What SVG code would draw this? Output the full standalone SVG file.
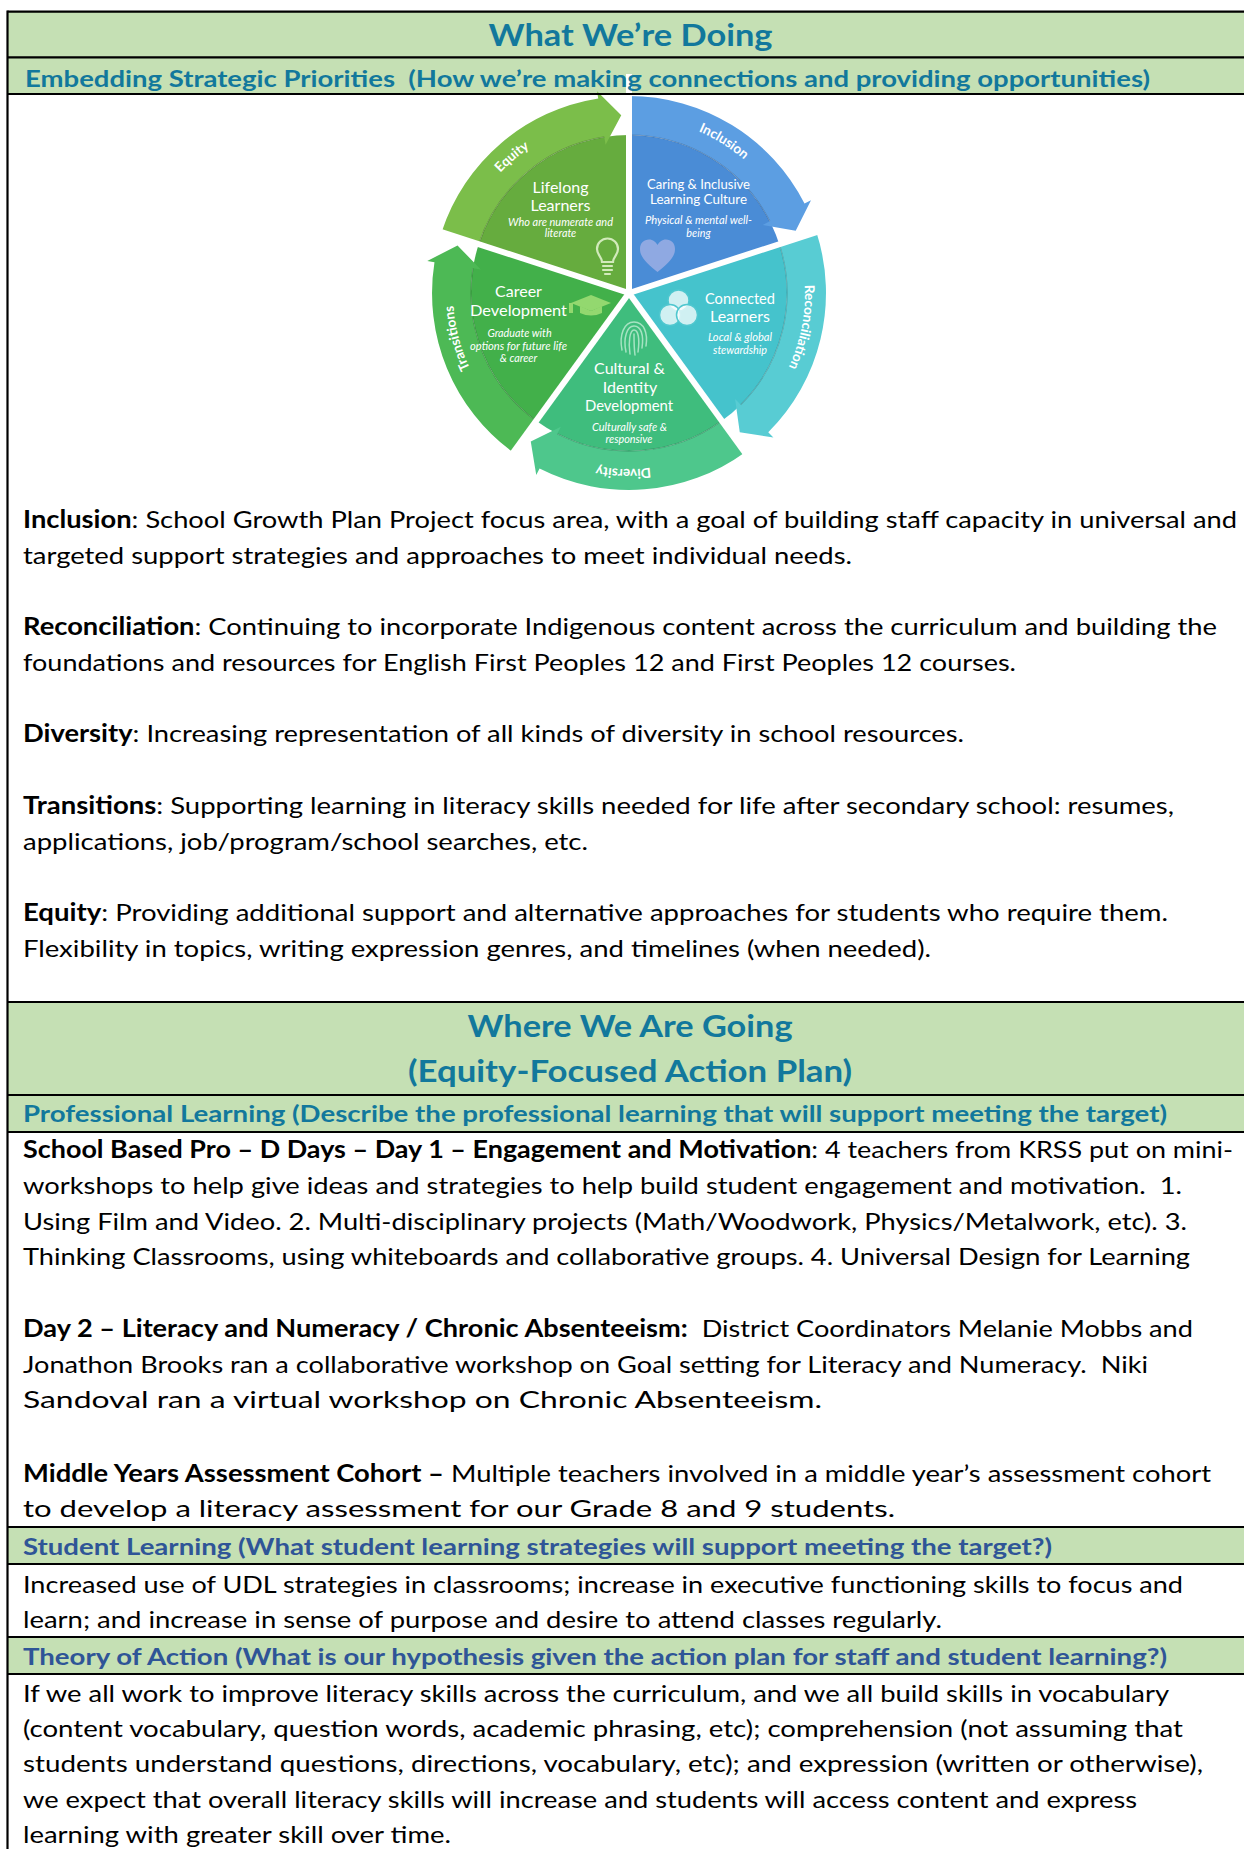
<svg xmlns="http://www.w3.org/2000/svg" width="1244" height="1849" viewBox="0 0 1244 1849">
<defs>
<style>
.t{font-family:Lato,'Liberation Sans',sans-serif;font-size:24px;fill:#000}
.b{font-weight:700}
.h1{font-family:Lato,'Liberation Sans',sans-serif;font-weight:700;font-size:31px;fill:#12789C;text-anchor:middle}
.h2{font-family:Lato,'Liberation Sans',sans-serif;font-weight:700;font-size:22.5px;fill:#12789C}
.h3{font-family:Lato,'Liberation Sans',sans-serif;font-weight:700;font-size:22.5px;fill:#2F5597}
.band{fill:#C5E0B4}
.rule{stroke:#000;stroke-width:2.2}
.pw{font-family:Lato,'Liberation Sans',sans-serif;fill:#fff;text-anchor:middle}
.pl{font-size:16px}
.ps{font-size:13.5px}
.pi{font-size:10.8px;font-style:italic}
.arc{font-family:Lato,'Liberation Sans',sans-serif;font-weight:700;font-size:13.5px;fill:#fff}
.edge{fill:none;stroke:#000;stroke-opacity:0.18;stroke-width:1.2}
</style>
<path id="segBody" d="M629,293 L629,135 A158,158 0 0 1 779.3,244.2 Z"/>
<path id="segBand" d="M629,135 L629,96 A197,197 0 0 1 804.5,203.6 L811,200.3 L795.7,230.7 L762.7,224.9 L769.8,221.3 A158,158 0 0 0 629,135 Z"/>
<path id="segEdge" d="M629,135 A158,158 0 0 1 769.8,221.3"/>
<line id="div" x1="629" y1="293" x2="629" y2="74"/>
<path id="ring" d="M629,117 A176,176 0 1 1 629,469 A176,176 0 1 1 629,117" fill="none"/>
</defs>

<rect x="0" y="0" width="1244" height="1849" fill="#fff"/>

<g id="fills">
<rect class="band" x="7.5" y="11.7" width="1240" height="82.3"/>
<rect class="band" x="7.5" y="1002" width="1240" height="130"/>
<rect class="band" x="7.5" y="1527" width="1240" height="37"/>
<rect class="band" x="7.5" y="1637" width="1240" height="37"/>
</g>

<g id="pie">
<g id="seg-caring">
<use href="#segBody" fill="#4A8CD6"/>
<use href="#segBand" fill="#5C9EE2"/>
<use href="#segEdge" class="edge"/>
</g>
<g id="seg-connected" transform="rotate(72 629 293)">
<use href="#segBody" fill="#45C3CC"/>
<use href="#segBand" fill="#58CCD3"/>
<use href="#segEdge" class="edge"/>
</g>
<g id="seg-cultural" transform="rotate(144 629 293)">
<use href="#segBody" fill="#3FBD7D"/>
<use href="#segBand" fill="#4EC78C"/>
<use href="#segEdge" class="edge"/>
</g>
<g id="seg-career" transform="rotate(216 629 293)">
<use href="#segBody" fill="#42B04A"/>
<use href="#segBand" fill="#4DB955"/>
<use href="#segEdge" class="edge"/>
</g>
<g id="seg-lifelong" transform="rotate(288 629 293)">
<use href="#segBody" fill="#66AC3E"/>
<use href="#segBand" fill="#7BBE4A"/>
<use href="#segEdge" class="edge"/>
</g>
<g id="dividers" stroke="#fff" stroke-width="6">
<use href="#div"/>
<use href="#div" transform="rotate(72 629 293)"/>
<use href="#div" transform="rotate(144 629 293)"/>
<use href="#div" transform="rotate(216 629 293)"/>
<use href="#div" transform="rotate(288 629 293)"/>
</g>

<g id="ring-labels" class="arc">
<text><textPath href="#ring" startOffset="88.7%" text-anchor="middle">Equity</textPath></text>
<text><textPath href="#ring" startOffset="8.9%" text-anchor="middle">Inclusion</textPath></text>
<text><textPath href="#ring" startOffset="28.1%" text-anchor="middle">Reconciliation</textPath></text>
<text><textPath href="#ring" startOffset="50.5%" text-anchor="middle">Diversity</textPath></text>
<text><textPath href="#ring" startOffset="70.9%" text-anchor="middle">Transitions</textPath></text>
</g>

<g id="icons">
<g stroke="#D2EABB" stroke-width="2.2" fill="none" stroke-linecap="round">
<path d="M602,262 C602,257 597,255 597,249 A10.5,10.5 0 1 1 618,249 C618,255 613,257 613,262 Z"/>
<line x1="603" y1="266" x2="612" y2="266"/>
<line x1="603" y1="270" x2="612" y2="270"/>
<line x1="605" y1="274" x2="610" y2="274"/>
</g>
<path d="M657.5,272 C648,264 640,258 640,249 C640,243 644,239.5 649,239.5 C653,239.5 656,242 657.5,245 C659,242 662,239.5 666,239.5 C671,239.5 675,243 675,249 C675,258 667,264 657.5,272 Z" fill="#8FA9E2"/>
<g fill="#fff" fill-opacity="0.75" stroke="#4FC7CF" stroke-width="1.5">
<circle cx="678.5" cy="300.5" r="10.5"/>
<circle cx="670" cy="315" r="10.5"/>
<circle cx="687" cy="315" r="10.5"/>
</g>
<g fill="#93D86F">
<polygon points="571,303 591,295 611,303 591,311"/>
<path d="M580,306 L580,313 Q591,318 602,313 L602,306 L591,311 Z"/>
<rect x="569" y="303" width="4" height="10"/>
</g>
<g fill="none" stroke="#A6E3C2" stroke-width="1.5" stroke-linecap="round">
<path d="M622,350 C619,335 624,322 634,322 C644,322 648,333 646,346"/>
<path d="M626,352 C623,338 627,326 634,326 C641,326 644,335 642,348"/>
<path d="M630,354 C628,342 630,330 634,330 C638,330 640,338 638,352"/>
<path d="M634,334 C634,342 634,348 635,355"/>
</g>
</g>

<g id="node-lifelong" class="pw">
<text class="pl" x="560.5" y="192.5">Lifelong</text>
<text class="pl" x="560.5" y="211">Learners</text>
<text class="pi" x="560.5" y="225.5" textLength="105" lengthAdjust="spacingAndGlyphs">Who are numerate and</text>
<text class="pi" x="560.5" y="237">literate</text>
</g>
<g id="node-caring" class="pw">
<text class="ps" x="698.5" y="189.3" textLength="103" lengthAdjust="spacingAndGlyphs">Caring &amp; Inclusive</text>
<text class="ps" x="698.5" y="204.3" textLength="97" lengthAdjust="spacingAndGlyphs">Learning Culture</text>
<text class="pi" x="698.5" y="224" textLength="107" lengthAdjust="spacingAndGlyphs">Physical &amp; mental well-</text>
<text class="pi" x="698.5" y="236.5">being</text>
</g>
<g id="node-connected" class="pw">
<text class="pl" x="740" y="304" textLength="70" lengthAdjust="spacingAndGlyphs">Connected</text>
<text class="pl" x="740" y="321.8">Learners</text>
<text class="pi" x="740" y="341" textLength="64" lengthAdjust="spacingAndGlyphs">Local &amp; global</text>
<text class="pi" x="740" y="353.5">stewardship</text>
</g>
<g id="node-career" class="pw">
<text class="pl" x="518.5" y="296.5">Career</text>
<text class="pl" x="518.5" y="315.8" textLength="97" lengthAdjust="spacingAndGlyphs">Development</text>
<text class="pi" x="519.5" y="337">Graduate with</text>
<text class="pi" x="518.5" y="349.7" textLength="97" lengthAdjust="spacingAndGlyphs">options for future life</text>
<text class="pi" x="518.5" y="362">&amp; career</text>
</g>
<g id="node-cultural" class="pw">
<text class="pl" x="629.5" y="374">Cultural &amp;</text>
<text class="pl" x="630" y="392.5">Identity</text>
<text class="pl" x="629" y="410.8" textLength="88" lengthAdjust="spacingAndGlyphs">Development</text>
<text class="pi" x="629.5" y="431" textLength="75" lengthAdjust="spacingAndGlyphs">Culturally safe &amp;</text>
<text class="pi" x="629" y="443">responsive</text>
</g>
</g>

<g id="rules">
<line class="rule" x1="7.5" y1="11.7" x2="1244" y2="11.7"/>
<line class="rule" x1="7.5" y1="57.3" x2="1244" y2="57.3"/>
<line class="rule" x1="7.5" y1="94" x2="1244" y2="94"/>
<line class="rule" x1="7.5" y1="1002" x2="1244" y2="1002"/>
<line class="rule" x1="7.5" y1="1095" x2="1244" y2="1095"/>
<line class="rule" x1="7.5" y1="1132" x2="1244" y2="1132"/>
<line class="rule" x1="7.5" y1="1527" x2="1244" y2="1527"/>
<line class="rule" x1="7.5" y1="1564" x2="1244" y2="1564"/>
<line class="rule" x1="7.5" y1="1637" x2="1244" y2="1637"/>
<line class="rule" x1="7.5" y1="1674" x2="1244" y2="1674"/>
<line class="rule" x1="7.5" y1="10.6" x2="7.5" y2="1849"/>
</g>

<g id="header-what">
<text class="h1" x="630.5" y="46" textLength="284" lengthAdjust="spacingAndGlyphs">What We’re Doing</text>
<text class="h2" x="25" y="87" textLength="1125" lengthAdjust="spacingAndGlyphs" xml:space="preserve">Embedding Strategic Priorities  (How we’re making connections and providing opportunities)</text>
</g>

<g id="section-priorities">
<text class="t" x="23" y="528" textLength="1214" lengthAdjust="spacingAndGlyphs"><tspan class="b">Inclusion</tspan>: School Growth Plan Project focus area, with a goal of building staff capacity in universal and</text>
<text class="t" x="23" y="563.7" textLength="829" lengthAdjust="spacingAndGlyphs">targeted support strategies and approaches to meet individual needs.</text>
<text class="t" x="23" y="635" textLength="1194" lengthAdjust="spacingAndGlyphs"><tspan class="b">Reconciliation</tspan>: Continuing to incorporate Indigenous content across the curriculum and building the</text>
<text class="t" x="23" y="671" textLength="993" lengthAdjust="spacingAndGlyphs">foundations and resources for English First Peoples 12 and First Peoples 12 courses.</text>
<text class="t" x="23" y="742" textLength="941" lengthAdjust="spacingAndGlyphs"><tspan class="b">Diversity</tspan>: Increasing representation of all kinds of diversity in school resources.</text>
<text class="t" x="23" y="814" textLength="1151" lengthAdjust="spacingAndGlyphs"><tspan class="b">Transitions</tspan>: Supporting learning in literacy skills needed for life after secondary school: resumes,</text>
<text class="t" x="23" y="849.5" textLength="565" lengthAdjust="spacingAndGlyphs">applications, job/program/school searches, etc.</text>
<text class="t" x="23" y="921" textLength="1145" lengthAdjust="spacingAndGlyphs"><tspan class="b">Equity</tspan>: Providing additional support and alternative approaches for students who require them.</text>
<text class="t" x="23" y="957" textLength="908" lengthAdjust="spacingAndGlyphs">Flexibility in topics, writing expression genres, and timelines (when needed).</text>
</g>

<g id="header-where">
<text class="h1" x="630" y="1037" textLength="325" lengthAdjust="spacingAndGlyphs">Where We Are Going</text>
<text class="h1" x="630" y="1082" textLength="444" lengthAdjust="spacingAndGlyphs">(Equity-Focused Action Plan)</text>
</g>

<g id="section-professional">
<text class="h2" x="23" y="1121.7" textLength="1144" lengthAdjust="spacingAndGlyphs">Professional Learning (Describe the professional learning that will support meeting the target)</text>
<text class="t" x="23" y="1158" textLength="1210" lengthAdjust="spacingAndGlyphs"><tspan class="b">School Based Pro – D Days – Day 1 – Engagement and Motivation</tspan>: 4 teachers from KRSS put on mini-</text>
<text class="t" x="23" y="1194" textLength="1159" lengthAdjust="spacingAndGlyphs" xml:space="preserve">workshops to help give ideas and strategies to help build student engagement and motivation.  1.</text>
<text class="t" x="23" y="1230" textLength="1164" lengthAdjust="spacingAndGlyphs">Using Film and Video. 2. Multi-disciplinary projects (Math/Woodwork, Physics/Metalwork, etc). 3.</text>
<text class="t" x="23" y="1265" textLength="1167" lengthAdjust="spacingAndGlyphs">Thinking Classrooms, using whiteboards and collaborative groups. 4. Universal Design for Learning</text>
<text class="t" x="23" y="1337" textLength="1170" lengthAdjust="spacingAndGlyphs" xml:space="preserve"><tspan class="b">Day 2 – Literacy and Numeracy / Chronic Absenteeism:</tspan>  District Coordinators Melanie Mobbs and</text>
<text class="t" x="23" y="1373" textLength="1125" lengthAdjust="spacingAndGlyphs" xml:space="preserve">Jonathon Brooks ran a collaborative workshop on Goal setting for Literacy and Numeracy.  Niki</text>
<text class="t" x="23" y="1408" textLength="799" lengthAdjust="spacingAndGlyphs">Sandoval ran a virtual workshop on Chronic Absenteeism.</text>
<text class="t" x="23" y="1482" textLength="1188" lengthAdjust="spacingAndGlyphs"><tspan class="b">Middle Years Assessment Cohort –</tspan> Multiple teachers involved in a middle year’s assessment cohort</text>
<text class="t" x="23" y="1517" textLength="872" lengthAdjust="spacingAndGlyphs">to develop a literacy assessment for our Grade 8 and 9 students.</text>
</g>

<g id="section-student">
<text class="h3" x="23" y="1555" textLength="1029" lengthAdjust="spacingAndGlyphs">Student Learning (What student learning strategies will support meeting the target?)</text>
<text class="t" x="23" y="1593" textLength="1160" lengthAdjust="spacingAndGlyphs">Increased use of UDL strategies in classrooms; increase in executive functioning skills to focus and</text>
<text class="t" x="23" y="1628" textLength="919" lengthAdjust="spacingAndGlyphs">learn; and increase in sense of purpose and desire to attend classes regularly.</text>
</g>

<g id="section-theory">
<text class="h3" x="23" y="1665" textLength="1144" lengthAdjust="spacingAndGlyphs">Theory of Action (What is our hypothesis given the action plan for staff and student learning?)</text>
<text class="t" x="23" y="1702" textLength="1146" lengthAdjust="spacingAndGlyphs">If we all work to improve literacy skills across the curriculum, and we all build skills in vocabulary</text>
<text class="t" x="23" y="1737" textLength="1160" lengthAdjust="spacingAndGlyphs">(content vocabulary, question words, academic phrasing, etc); comprehension (not assuming that</text>
<text class="t" x="23" y="1772" textLength="1180" lengthAdjust="spacingAndGlyphs">students understand questions, directions, vocabulary, etc); and expression (written or otherwise),</text>
<text class="t" x="23" y="1808" textLength="1114" lengthAdjust="spacingAndGlyphs">we expect that overall literacy skills will increase and students will access content and express</text>
<text class="t" x="23" y="1843" textLength="428" lengthAdjust="spacingAndGlyphs">learning with greater skill over time.</text>
</g>
</svg>
